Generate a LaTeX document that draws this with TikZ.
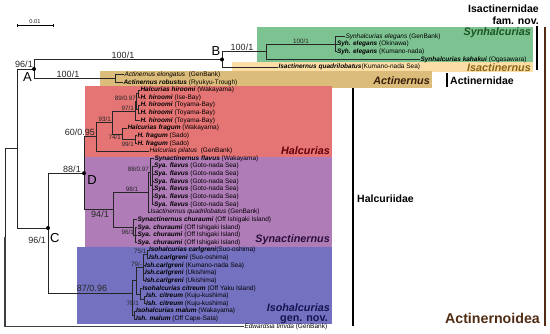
\documentclass[tikz,border=0pt]{standalone}
\usepackage{fontspec}
\setmainfont{Liberation Sans}
\usepackage{xcolor}
\usetikzlibrary{positioning}

\definecolor{synhal}{RGB}{125,195,145}
\definecolor{isact}{RGB}{250,222,165}
\definecolor{actin}{RGB}{220,188,122}
\definecolor{halcu}{RGB}{229,116,116}
\definecolor{synact}{RGB}{176,124,184}
\definecolor{isohal}{RGB}{116,113,192}
\definecolor{brownbar}{RGB}{80,45,20}

\newcommand{\tipbi}[2]{\textbf{\textit{#1}} #2}
\newcommand{\tipit}[2]{\textit{#1} #2}

\begin{document}
\begin{tikzpicture}[x=1pt, y=-1pt,
    tip/.style={anchor=west, inner sep=0.3pt, font=\fontsize{6.5}{7}\selectfont},
    br/.style={draw=black!85, line width=0.7pt},
    bigsup/.style={inner sep=0.5pt, font=\fontsize{9}{10}\selectfont, text=black!85},
    smallsup/.style={inner sep=0.3pt, font=\fontsize{6.3}{7}\selectfont, text=black!85},
    cladename/.style={anchor=east, inner sep=0pt, font=\fontsize{10.8}{11}\selectfont\bfseries\itshape},
    famname/.style={inner sep=0pt, font=\fontsize{10.5}{11}\selectfont\bfseries},
    dot/.style={circle, fill=black, inner sep=0pt, minimum size=4pt},
    letter/.style={inner sep=0pt, font=\fontsize{13}{13}\selectfont}
]
    \useasboundingbox (0,0) rectangle (550,334);
    \fill[white] (0,0) rectangle (550,334);

    % clade boxes
    \fill[synhal] (257,27) rectangle (533,62);
    \fill[isact] (232,62) rectangle (533,72);
    \fill[actin] (100,71) rectangle (432,88);
    \fill[halcu] (85,86) rectangle (332,157);
    \fill[synact] (85,157) rectangle (332,247);
    \fill[isohal] (77,247) rectangle (332,324);

    \node[cladename, text={rgb,255:red,25;green,85;blue,35}] (nSyh) at (531,33) {Synhalcurias};
    \node[cladename, text={rgb,255:red,140;green,100;blue,20}] (nIsa) at (531,68) {Isactinernus};
    \node[cladename, text={rgb,255:red,55;green,30;blue,10}] (nAct) at (430,81) {Actinernus};
    \node[cladename, text={rgb,255:red,100;green,0;blue,10}] (nHal) at (330,151) {Halcurias};
    \node[cladename, text={rgb,255:red,40;green,15;blue,60}] (nSya) at (330,240) {Synactinernus};
    \node[cladename, text={rgb,255:red,20;green,20;blue,80}] (nIso) at (330,308) {Isohalcurias};
    \node[cladename, font=\fontsize{10.8}{11}\selectfont\bfseries, text={rgb,255:red,20;green,20;blue,80}] (nGen) at (328,319.5) {gen. nov.};

    % family brackets
    \node[famname, anchor=east] (fIsa) at (539,9) {Isactinernidae};
    \node[famname, anchor=east] (fIsa2) at (539,20.5) {fam. nov.};
    \draw[line width=2pt] (537,26) -- (537,70);
    \node[famname, anchor=west] (fAct) at (450,81) {Actinernidae};
    \draw[line width=2pt] (447,73) -- (447,87);
    \node[famname, anchor=west] (fHal) at (357,199) {Halcuriidae};
    \draw[line width=2pt] (353,88) -- (353,326);
    \node[famname, anchor=east, font=\fontsize{14.2}{15}\selectfont\bfseries, text=brownbar] (fSup) at (540,318) {Actinernoidea};
    \draw[line width=2pt, brownbar] (544.5,27) -- (544.5,326);

    % scale bar
    \node[smallsup, font=\fontsize{5.7}{6}\selectfont, anchor=south] (scl) at (35,24.5) {0.01};
    \draw[line width=0.6pt] (17,24) -- (17,27) (17,25.5) -- (53,25.5) (53,24) -- (53,27);

    % internal nodes
    \coordinate (E) at (335,44.22);
    \coordinate (S1) at (266,51.85);
    \coordinate (B) at (222,59.48);
    \coordinate (Act) at (115,78.55);
    \coordinate (A) at (34,69);
    \coordinate (O2a) at (138,93.8);
    \coordinate (O3) at (138,109.1);
    \coordinate (O2) at (136.5,101.4);
    \coordinate (O1) at (135,111);
    \coordinate (F2) at (135,139.6);
    \coordinate (F1) at (122,133.9);
    \coordinate (N93) at (112,122.4);
    \coordinate (H) at (96,136.7);
    \coordinate (FL) at (152,185.4);
    \coordinate (F88) at (150,172);
    \coordinate (N98) at (148,192.1);
    \coordinate (CH2) at (135,234.97);
    \coordinate (CH) at (133,227.3);
    \coordinate (N94) at (113,209.7);
    \coordinate (D) at (84,173.2);
    \coordinate (C1) at (147,254.05);
    \coordinate (C2) at (143,267.4);
    \coordinate (Ci1) at (144,299.8);
    \coordinate (Ci) at (140,294.1);
    \coordinate (CC) at (136,280.75);
    \coordinate (M) at (134,315.1);
    \coordinate (I) at (132,293);
    \coordinate (C) at (48,228);
    \coordinate (P0) at (17,148.5);
    \coordinate (R) at (5,237.5);

    % tips
    \node[tip] (syE1) at (345,36.59) {\tipit{Synhalcurias elegans}{(GenBank)}};
    \node[tip] (syE2) at (336.5,44.22) {\tipbi{Syh. elegans}{(Okinawa)}};
    \node[tip] (syE3) at (336.5,51.85) {\tipbi{Syh. elegans}{(Kumano-nada)}};
    \node[tip] (syK) at (420,59.48) {\tipbi{Synhalcurias kahakui}{(Ogasawara)}};
    \node[tip] (isQ) at (278,67.11) {\textbf{\textit{Isactinernus quadrilobatus}}(Kumano-nada Sea)};
    \node[tip] (acE) at (124,74.74) {\tipit{Actinernus elongatus}{\ (GenBank)}};
    \node[tip] (acR) at (123,82.37) {\tipbi{Actinernus robustus}{(Ryukyu-Trough)}};

    \node[tip] (hiW) at (140,90) {\tipbi{Halcurias hiroomi}{(Wakayama)}};
    \node[tip] (hiI) at (140,97.63) {\tipbi{H. hiroomi}{(Ise-Bay)}};
    \node[tip] (hiT1) at (140,105.26) {\tipbi{H. hiroomi}{(Toyama-Bay)}};
    \node[tip] (hiT2) at (140,112.89) {\tipbi{H. hiroomi}{(Toyama-Bay)}};
    \node[tip] (hiT3) at (140,120.52) {\tipbi{H. hiroomi}{(Toyama-Bay)}};
    \node[tip] (frW) at (127,128.15) {\tipbi{Halcurias fragum}{(Wakayama)}};
    \node[tip] (frS1) at (137,135.78) {\tipbi{H. fragum}{(Sado)}};
    \node[tip] (frS2) at (137,143.41) {\tipbi{H. fragum}{(Sado)}};
    \node[tip] (hPi) at (149,151.04) {\tipit{Halcurias pilatus}{\ (GenBank)}};

    \node[tip] (flW) at (154,158.67) {\tipbi{Synactinernus flavus}{(Wakayama)}};
    \foreach \k [count=\i] in {10,...,15}
        \node[tip] (fl\i) at (153.5,{90+7.63*\k}) {\tipbi{Sya. flavus}{(Goto-nada Sea)}};
    \node[tip] (sqG) at (150,212.08) {\tipit{Isactinernus quadrilobatus}{(GenBank)}};
    \node[tip] (chI) at (137,219.71) {\tipbi{Synactinernus churaumi}{(Off Ishigaki Island)}};
    \foreach \k [count=\i] in {18,...,20}
        \node[tip] (ch\i) at (137,{90+7.63*\k}) {\tipbi{Sya. churaumi}{(Off Ishigaki Island)}};

    \node[tip] (caS) at (148.5,250.23) {\textbf{\textit{Isohalcurias carlgreni}}(Suo-oshima)};
    \node[tip] (caS2) at (148.5,257.86) {\tipbi{Ish.carlgreni}{(Suo-oshima)}};
    \node[tip] (caK) at (144.5,265.49) {\tipbi{Ish.carlgreni}{(Kumano-nada Sea)}};
    \node[tip] (caU1) at (144.5,273.12) {\tipbi{Ish.carlgreni}{(Ukishima)}};
    \node[tip] (caU2) at (144.5,280.75) {\tipbi{Ish.carlgreni}{(Ukishima)}};
    \node[tip] (ciY) at (142,288.38) {\tipbi{Isohalcurias citreum}{(Off Yaku Island)}};
    \node[tip] (ciK1) at (145.5,296.01) {\tipbi{Ish. citreum}{(Kuju-kushima)}};
    \node[tip] (ciK2) at (145.5,303.64) {\tipbi{Ish. citreum}{(Kuju-kushima)}};
    \node[tip] (maW) at (135.5,311.27) {\tipbi{Isohalcurias malum}{(Wakayama)}};
    \node[tip] (maC) at (135.5,318.9) {\tipbi{Ish. malum}{(Off Cape-Sata)}};
    \node[tip] (edw) at (244,326.53) {\tipit{Edwardsia timida}{(GenBank)}};

    % branches
    \draw[br] (E) |- (syE1.west);
    \draw[br] (E) |- (syE2.west);
    \draw[br] (E) |- (syE3.west);
    \draw[br] (S1) |- (E);
    \draw[br] (S1) |- (syK.west);
    \draw[br] (B) |- (S1);
    \draw[br] (B) |- (isQ.west);
    \draw[br] (Act) |- (acE.west);
    \draw[br] (Act) |- (acR.west);
    \draw[br] (A) |- (B);
    \draw[br] (A) |- (Act);

    \draw[br] (O2a) |- (hiW.west);
    \draw[br] (O2a) |- (hiI.west);
    \draw[br] (O3) |- (hiT1.west);
    \draw[br] (O3) |- (hiT2.west);
    \draw[br] (O2) |- (O2a);
    \draw[br] (O2) |- (O3);
    \draw[br] (O1) |- (O2);
    \draw[br] (O1) |- (hiT3.west);
    \draw[br] (F2) |- (frS1.west);
    \draw[br] (F2) |- (frS2.west);
    \draw[br] (F1) |- (frW.west);
    \draw[br] (F1) |- (F2);
    \draw[br] (N93) |- (O1);
    \draw[br] (N93) |- (F1);
    \draw[br] (H) |- (N93);
    \draw[br] (H) |- (hPi.west);

    \foreach \i in {1,...,6}
        \draw[br] (FL) |- (fl\i.west);
    \draw[br] (F88) |- (flW.west);
    \draw[br] (F88) |- (FL);
    \draw[br] (N98) |- (F88);
    \draw[br] (N98) |- (sqG.west);
    \foreach \i in {1,...,3}
        \draw[br] (CH2) |- (ch\i.west);
    \draw[br] (CH) |- (chI.west);
    \draw[br] (CH) |- (CH2);
    \draw[br] (N94) |- (N98);
    \draw[br] (N94) |- (CH);
    \draw[br] (D) |- (H);
    \draw[br] (D) |- (N94);

    \draw[br] (C1) |- (caS.west);
    \draw[br] (C1) |- (caS2.west);
    \draw[br] (C2) |- (C1);
    \draw[br] (C2) |- (caK.west);
    \draw[br] (C2) |- (caU1.west);
    \draw[br] (C2) |- (caU2.west);
    \draw[br] (Ci1) |- (ciK1.west);
    \draw[br] (Ci1) |- (ciK2.west);
    \draw[br] (Ci) |- (ciY.west);
    \draw[br] (Ci) |- (Ci1);
    \draw[br] (CC) |- (C2);
    \draw[br] (CC) |- (Ci);
    \draw[br] (M) |- (maW.west);
    \draw[br] (M) |- (maC.west);
    \draw[br] (I) |- (CC);
    \draw[br] (I) |- (M);
    \draw[br] (C) |- (D);
    \draw[br] (C) |- (I);
    \draw[br] (P0) |- (A);
    \draw[br] (P0) |- (C);
    \draw[br] (R) |- (P0);
    \draw[br, line width=1.2pt, draw=black!75] (R) |- (edw.west);

    % node dots and letters
    \node[dot] (dA) at (A) {};
    \node[dot] (dB) at (B) {};
    \node[dot] (dC) at (C) {};
    \node[dot] (dD) at (D) {};
    \node[letter] (lA) at (27.5,77) {A};
    \node[letter] (lB) at (216,51.5) {B};
    \node[letter, anchor=west] (lC) at (50,238.5) {C};
    \node[letter] (lD) at (92,180.5) {D};

    % support values
    \node[bigsup, anchor=south] (sP0) at (24,68.5) {96/1};
    \node[bigsup, anchor=south] (sAB) at (123,59) {100/1};
    \node[bigsup, anchor=south] (sAAct) at (68,78.2) {100/1};
    \node[bigsup, anchor=south] (sBS) at (242,51.5) {100/1};
    \node[smallsup, anchor=south] (sSE) at (301,43.7) {100/1};
    \node[smallsup, anchor=south east] (sO2) at (136.5,101.2) {89/0.97};
    \node[smallsup, anchor=south east] (sO1) at (134.5,110.8) {97/1};
    \node[smallsup, anchor=south east] (sN93) at (111.5,122.2) {93/1};
    \node[smallsup, anchor=north east] (sF1) at (121.5,134.4) {74/1};
    \node[smallsup, anchor=east] (sF2) at (134.5,144.5) {99/1};
    \node[bigsup, anchor=south east] (sH) at (95.5,136.4) {60/0.95};
    \node[smallsup, anchor=south east] (sF88) at (149.5,171.8) {88/0.97};
    \node[smallsup, anchor=south] (sN98) at (132,191.9) {98/1};
    \node[smallsup, anchor=south east] (sCH) at (134.5,234.8) {96/1};
    \node[bigsup, anchor=north] (sN94) at (100,210.5) {94/1};
    \node[bigsup, anchor=south] (sD) at (72,173) {88/1};
    \node[bigsup, anchor=south] (sI) at (92,292.7) {87/0.96};
    \node[bigsup, anchor=north east] (sC) at (46.5,236) {96/1};
    \node[smallsup, anchor=south east] (sC1) at (147,253.8) {75/1};
    \node[smallsup, anchor=south east] (sC2) at (142.5,267.2) {79/-};
    \node[smallsup, anchor=east] (sCi1) at (139.5,302.8) {78/1};
\end{tikzpicture}
\end{document}
